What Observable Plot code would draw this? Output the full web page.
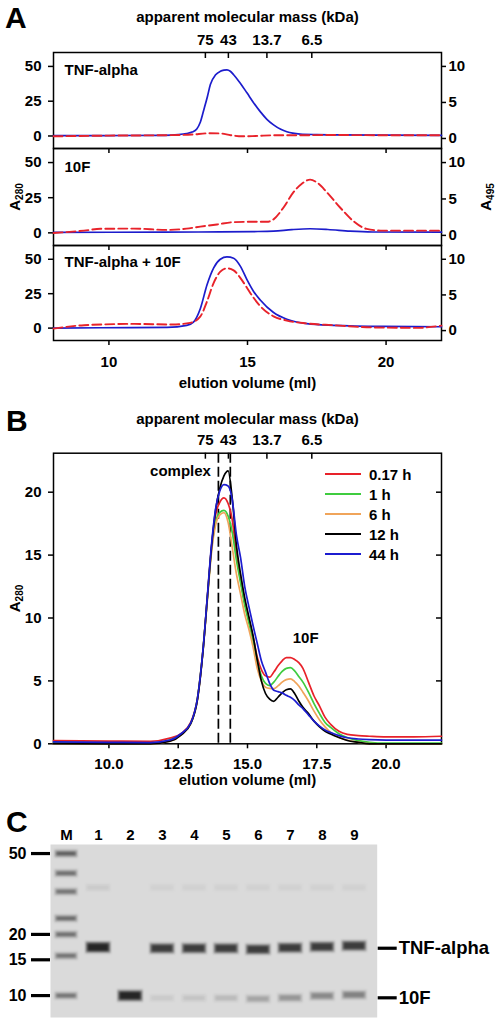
<!DOCTYPE html>
<html><head><meta charset="utf-8">
<script src="https://cdn.jsdelivr.net/npm/d3@7"></script>
<script src="https://cdn.jsdelivr.net/npm/@observablehq/plot@0.6"></script>
<style>
body{margin:0;background:#fff;}
#fig{position:relative;width:498px;height:1022px;font-family:"Liberation Sans",Arial,sans-serif;font-weight:bold;color:#000;overflow:hidden;}
#fig .part{position:absolute;left:0;}
#fig .letter{position:absolute;font-size:30px;line-height:1;font-weight:bold;}
#fig .legend{position:absolute;left:325px;top:464px;font-size:15px;}
#fig .legend .row{display:flex;align-items:center;height:20px;}
#fig .legend svg{display:block;}
</style></head>
<body><div id="fig"></div>
<script>
// ---------- shared axis values ----------
const kdaLabels = ["75", "43", "13.7", "6.5"];
const kdaVol = [13.48, 14.31, 15.70, 17.32];       // elution volume (ml) of the mass standards
const volTicksA = [10, 15, 20];
const volTicksB = [10, 12.5, 15, 17.5, 20];
const a280TicksA = [0, 25, 50];
const a495TicksA = [0, 5, 10];
const a280TicksB = [0, 5, 10, 15, 20];

// ---------- Panel A : TNF-alpha ----------
const a1Vol  = [8, 10, 12, 12.5, 12.8, 13.0, 13.17, 13.3, 13.42, 13.55, 13.66, 13.85, 14.02, 14.15, 14.26, 14.38, 14.5, 14.7, 14.98, 15.2, 15.46, 15.7, 15.94, 16.2, 16.42, 16.9, 17.5, 18.1, 20, 22];
const a1A280 = [0.2, 0.3, 0.5, 1.0, 1.8, 2.8, 5.0, 10, 18.5, 28, 37, 44, 46.5, 47.3, 47.5, 46.5, 44, 39, 31, 24.5, 17.5, 12, 8, 4.8, 3, 1.4, 1.0, 0.8, 0.6, 0.5];
const a1VolR = [8, 10, 12, 13, 13.6, 14.0, 14.4, 14.8, 15.3, 16, 17, 18, 20, 22];
const a1A495 = [0.3, 0.4, 0.45, 0.55, 0.72, 0.7, 0.45, 0.3, 0.35, 0.45, 0.45, 0.48, 0.45, 0.45];
// ---------- Panel A : 10F ----------
const a2Vol  = [8, 12, 14, 15.2, 15.94, 16.6, 17.26, 17.9, 18.7, 19.5, 22];
const a2A280 = [0.4, 0.5, 0.7, 0.9, 1.2, 2.3, 2.9, 2.4, 1.2, 0.6, 0.5];
const a2VolR = [8, 9.1, 9.7, 10.9, 12.1, 12.8, 13.3, 13.9, 14.5, 15.2, 15.7, 15.94, 16.3, 16.66, 16.96, 17.26, 17.56, 17.86, 18.34, 18.82, 19.3, 19.9, 22];
const a2A495 = [0.33, 0.65, 0.9, 0.93, 0.75, 0.93, 1.2, 1.5, 1.82, 1.87, 1.87, 2.2, 3.83, 5.93, 7.1, 7.66, 7.1, 5.93, 3.83, 1.96, 0.89, 0.65, 0.65];
// ---------- Panel A : TNF-alpha + 10F ----------
const a3Vol  = [8, 9.7, 12.1, 12.81, 13.05, 13.3, 13.54, 13.78, 14.02, 14.26, 14.5, 14.74, 14.98, 15.22, 15.46, 15.94, 16.42, 17.14, 18.1, 19.9, 22];
const a3A280 = [0, 0.25, 0.5, 2, 4.4, 14.3, 31.5, 43.8, 50, 51.7, 50.7, 45, 35.2, 26.6, 20.4, 11.3, 6.4, 3.2, 2, 1.2, 1];
const a3VolR = [8, 9.1, 10.9, 12.3, 12.93, 13.3, 13.54, 13.78, 14.02, 14.26, 14.5, 14.74, 14.98, 15.22, 15.46, 15.94, 16.42, 17.14, 18.1, 19.3, 21.1, 22];
const a3A495 = [0.28, 0.75, 0.94, 0.85, 1.08, 2.0, 4.1, 6.7, 8.26, 8.73, 8.45, 7.4, 6.0, 4.6, 3.43, 2.0, 1.4, 1.0, 0.75, 0.47, 0.38, 0.7];

// ---------- Panel B : time course ----------
const bTimes = ["0.17 h", "1 h", "6 h", "12 h", "44 h"];
const bVol = [8, 10, 11.5, 12.2, 12.6, 12.95, 13.2, 13.4, 13.55, 13.7, 13.85, 14.0, 14.15, 14.3, 14.45, 14.6, 14.75, 14.9, 15.05, 15.2, 15.35, 15.5, 15.65, 15.8, 15.95, 16.1, 16.25, 16.4, 16.55, 16.7, 16.85, 17.0, 17.2, 17.4, 17.6, 17.8, 18.0, 18.3, 18.6, 19.0, 19.4, 20.0, 21.0, 22.0];
const b017h = [0.25, 0.22, 0.2, 0.45, 0.8, 1.7, 3.7, 7.6, 11.6, 15.6, 18.2, 19.2, 19.55, 19.1, 17.8, 15.0, 13.0, 11.2, 9.9, 8.5, 6.9, 5.9, 5.4, 5.3, 5.7, 6.2, 6.6, 6.85, 6.85, 6.7, 6.45, 6.0, 4.9, 3.8, 3.0, 2.1, 1.55, 1.0, 0.75, 0.65, 0.6, 0.55, 0.55, 0.6];
const b1h   = [0.1, 0.05, 0.02, 0.3, 0.75, 1.6, 3.7, 7.6, 11.5, 15.4, 17.6, 18.4, 18.55, 18.1, 16.8, 14.6, 12.8, 11.0, 9.6, 8.2, 6.6, 5.4, 4.8, 4.63, 4.9, 5.35, 5.75, 6.0, 6.05, 5.8, 5.35, 4.9, 4.1, 3.2, 2.4, 1.7, 1.3, 0.8, 0.5, 0.25, 0.12, 0.05, 0.05, 0.05];
const b6h   = [0.02, 0, 0, 0.2, 0.7, 1.6, 3.6, 7.5, 11.4, 15.2, 17.4, 18.2, 18.38, 17.6, 15.6, 13.5, 11.9, 10.3, 9.1, 7.7, 6.0, 5.0, 4.5, 4.4, 4.38, 4.6, 4.9, 5.1, 5.16, 4.95, 4.6, 4.1, 3.4, 2.6, 1.9, 1.35, 0.9, 0.5, 0.3, 0.12, 0.02, 0, 0, 0];
const b12h  = [0.02, 0, 0, 0.2, 0.7, 1.6, 3.6, 7.5, 11.6, 15.6, 18.6, 20.3, 21.3, 21.7, 19.5, 15.8, 13.5, 11.6, 10.1, 8.6, 6.7, 5.0, 4.0, 3.55, 3.38, 3.7, 4.05, 4.3, 4.36, 4.0, 3.4, 2.9, 2.4, 1.8, 1.35, 1.0, 0.78, 0.5, 0.26, 0.12, 0, 0, 0, 0];
const b44h  = [0.15, 0.12, 0.1, 0.3, 0.8, 1.65, 3.7, 7.6, 11.7, 15.8, 18.7, 20.1, 20.6, 20.5, 19.4, 16.6, 14.8, 12.5, 10.9, 9.4, 8.0, 6.6, 5.7, 4.8, 4.25, 4.15, 4.05, 3.85, 3.7, 3.45, 3.1, 2.8, 2.3, 1.8, 1.4, 1.1, 0.9, 0.65, 0.48, 0.38, 0.33, 0.3, 0.3, 0.3];
const complexVol = [13.95, 14.38];

// ---------- Panel C : SDS gel ----------
const lanes = ["M", "1", "2", "3", "4", "5", "6", "7", "8", "9"];
const mwTicks = [50, 20, 15, 10];
const markerMW = [50, 40, 32.5, 24, 20, 15.7, 10];
const markerInt = [0.6, 0.5, 0.47, 0.52, 0.5, 0.47, 0.47];
const tnfLanes = ["1", "3", "4", "5", "6", "7", "8", "9"];
const tnfMW = [17.3, 17.1, 17.1, 17.1, 16.9, 17.2, 17.4, 17.6];
const tnfInt = [1.0, 0.82, 0.82, 0.82, 0.82, 0.82, 0.82, 0.82];
const f10Lanes = ["2", "3", "4", "5", "6", "7", "8", "9"];
const f10MW = [10.0, 9.73, 9.73, 9.73, 9.64, 9.75, 9.97, 10.09];
const f10Int = [1.0, 0.06, 0.09, 0.13, 0.22, 0.29, 0.35, 0.39];
const faintLanes = ["1", "3", "4", "5", "6", "7", "8", "9"];
const faintMW = [34, 34, 34, 34, 34, 34, 34, 34];
const faintInt = [0.06, 0.035, 0.035, 0.035, 0.035, 0.035, 0.035, 0.035];
const bandLabels = ["TNF-alpha", "10F"];
const bandLabelMW = [17.1, 9.75];

// ---------- styling ----------
const RED = "#e8222a", BLUE = "#1c1ccc";
const bColors = ["#e8222a", "#3fcc3f", "#f0a45a", "#000000", "#1c1cd0"];
const FONT = '"Liberation Sans", Arial, sans-serif';
const style = {fontFamily: FONT, fontSize: "15px", fontWeight: "bold", color: "#000", background: "transparent", overflow: "visible"};
// A495 (right axis) drawn in A280 units of the left axis
const A_OFF = -1.8, A_SCALE = 5.18;
const toLeft = r => A_OFF + A_SCALE * r;
const SVGNS = "http://www.w3.org/2000/svg";

const fig = document.getElementById("fig");
function place(node, top) {
  const d = document.createElement("div");
  d.className = "part"; d.style.top = top + "px";
  d.appendChild(node); fig.appendChild(d); return node;
}
function subscriptify(svg) {
  svg.querySelectorAll("text").forEach(t => {
    const m = /^A(\d{3})$/.exec(t.textContent);
    if (!m || t.children.length) return;
    t.textContent = "A";
    const ts = document.createElementNS(SVGNS, "tspan");
    ts.setAttribute("dy", "0.3em");
    ts.setAttribute("font-size", "10");
    ts.textContent = m[1];
    t.appendChild(ts);
  });
}
function letter(ch, left, top) {
  const d = document.createElement("div");
  d.className = "letter"; d.textContent = ch;
  d.style.left = left + "px"; d.style.top = top + "px";
  fig.appendChild(d);
}
const zip = (xs, ys) => xs.map((x, i) => ({x, y: ys[i]}));

// ---------- Panel A ----------
const aSpecs = [
  {name: "TNF-alpha", top: 0, height: 148, mt: 52, mb: 0, nameDy: 18, bv: a1Vol, b: a1A280, rv: a1VolR, r: a1A495},
  {name: "10F", top: 148, height: 97, mt: 0, mb: 0, nameDy: 18.5, bv: a2Vol, b: a2A280, rv: a2VolR, r: a2A495},
  {name: "TNF-alpha + 10F", top: 245, height: 147, mt: 0, mb: 52, nameDy: 17, bv: a3Vol, b: a3A280, rv: a3VolR, r: a3A495}
];
aSpecs.forEach((s, k) => {
  const frameH = s.height - s.mt - s.mb;
  const marks = [
    Plot.frame({strokeWidth: 1.5}),
    Plot.axisY({anchor: "left", ticks: a280TicksA, tickSize: 5, tickPadding: 7, strokeWidth: 1.5, label: null}),
    Plot.axisY({anchor: "right", ticks: a495TicksA.map(toLeft), tickFormat: d => String(Math.round((d - A_OFF) / A_SCALE)), tickSize: 4, tickPadding: 3, strokeWidth: 1.5, label: null}),
    Plot.line(zip(s.bv, s.b), {x: "x", y: "y", stroke: BLUE, strokeWidth: 1.7, curve: "monotone-x"}),
    Plot.line(zip(s.rv, s.r), {x: "x", y: d => toLeft(d.y), stroke: RED, strokeWidth: 1.9, strokeDasharray: "9,4", curve: "monotone-x"}),
    Plot.text([s.name], {text: d => d, frameAnchor: "top-left", dx: 11, dy: s.nameDy, lineAnchor: "middle", textAnchor: "start"})
  ];
  if (k === 0) {
    marks.push(Plot.tickX(kdaVol, {x: d => d, insetBottom: frameH - 6, strokeWidth: 1.5}));
    marks.push(Plot.axisX({anchor: "top", ticks: kdaVol, tickFormat: d => kdaLabels[kdaVol.indexOf(d)], tickSize: 0, tickPadding: 8, label: "apparent molecular mass (kDa)", labelAnchor: "center", labelArrow: "none", labelOffset: 41}));
  } else {
    marks.push(Plot.tickX(volTicksA, {x: d => d, insetBottom: frameH - 5, strokeWidth: 1.5}));
  }
  if (k === 1) {
    marks.push(Plot.text(["A280"], {text: d => d, frameAnchor: "left", rotate: -90, dx: -38.5, lineAnchor: "middle", textAnchor: "middle"}));
    marks.push(Plot.text(["A495"], {text: d => d, frameAnchor: "right", rotate: -90, dx: 45, lineAnchor: "middle", textAnchor: "middle"}));
  }
  if (k === 2) {
    marks.push(Plot.axisX({anchor: "bottom", ticks: volTicksA, tickSize: 5, tickPadding: 11, strokeWidth: 1.5, label: "elution volume (ml)", labelAnchor: "center", labelArrow: "none", labelOffset: 47.5}));
  }
  const svg = Plot.plot({
    width: 498, height: s.height, marginTop: s.mt, marginBottom: s.mb, marginLeft: 53, marginRight: 57,
    x: {domain: [8, 22], axis: null}, y: {domain: [-9, 60], axis: null},
    style, marks
  });
  subscriptify(svg);
  place(svg, s.top);
});

// ---------- Panel B ----------
{
  const series = [b017h, b1h, b6h, b12h, b44h];
  const bData = series.flatMap((vals, j) => vals.map((v, i) => ({vol: bVol[i], a: v, t: bTimes[j]})));
  const frameW = 498 - 53 - 57, frameH = 420 - 72.7 - 56.7;
  const svg = Plot.plot({
    width: 498, height: 420, marginTop: 72.7, marginBottom: 56.7, marginLeft: 53, marginRight: 57,
    x: {domain: [8, 22], axis: null}, y: {domain: [0, 23.1], axis: null},
    color: {domain: bTimes, range: bColors},
    style,
    marks: [
      Plot.frame({strokeWidth: 1.5}),
      Plot.axisY({anchor: "left", ticks: a280TicksB, tickSize: 5, tickPadding: 7, strokeWidth: 1.5, label: null}),
      Plot.tickY(a280TicksB.filter(d => d > 0), {y: d => d, insetLeft: frameW - 5, strokeWidth: 1.5}),
      Plot.tickX(kdaVol, {x: d => d, insetBottom: frameH - 6, strokeWidth: 1.5}),
      Plot.axisX({anchor: "top", ticks: kdaVol, tickFormat: d => kdaLabels[kdaVol.indexOf(d)], tickSize: 0, tickPadding: 8, label: "apparent molecular mass (kDa)", labelAnchor: "center", labelArrow: "none", labelOffset: 39.5}),
      Plot.axisX({anchor: "bottom", ticks: volTicksB, tickFormat: d3.format(".1f"), tickSize: 5, tickPadding: 10, strokeWidth: 1.5, label: "elution volume (ml)", labelAnchor: "center", labelArrow: "none", labelOffset: 41.5}),
      Plot.ruleX(complexVol, {x: d => d, stroke: "#000", strokeWidth: 1.7, strokeDasharray: "10,4"}),
      Plot.line(bData, {x: "vol", y: "a", z: "t", stroke: "t", strokeWidth: 1.7, curve: "monotone-x"}),
      Plot.text(["complex"], {text: d => d, x: 13.68, y: 21.7, textAnchor: "end", lineAnchor: "middle"}),
      Plot.text(["10F"], {text: d => d, x: 17.1, y: 8.4, textAnchor: "middle", lineAnchor: "middle"}),
      Plot.text(["A280"], {text: d => d, frameAnchor: "left", rotate: -90, dx: -38.5, lineAnchor: "middle", textAnchor: "middle"})
    ]
  });
  subscriptify(svg);
  place(svg, 380);

  // legend
  const leg = document.createElement("div");
  leg.className = "legend";
  bTimes.forEach((t, j) => {
    const row = document.createElement("div");
    row.className = "row";
    row.innerHTML = `<svg width="36" height="20"><line x1="0" x2="36" y1="10" y2="10" stroke="${bColors[j]}" stroke-width="2"/></svg><span style="margin-left:8px">${t}</span>`;
    leg.appendChild(row);
  });
  fig.appendChild(leg);
}

// ---------- Panel C ----------
{
  const band = (ls, mws, ints) => ls.map((l, i) => ({lane: l, mw: mws[i], a: ints[i]}));
  const markers = markerMW.map((mw, i) => ({lane: "M", mw, a: markerInt[i]}));
  const bands = [
    ...band(tnfLanes, tnfMW, tnfInt),
    ...band(f10Lanes, f10MW, f10Int),
    ...band(faintLanes, faintMW, faintInt)
  ];
  // each band is drawn as a soft stack: wide faint halo + narrower dense core
  const halo = [
    {grow: 5, inset: 1, k: 0.18},
    {grow: 2.5, inset: 2, k: 0.3},
    {grow: 0, inset: 3.5, k: 0.7}
  ];
  const bandMarks = halo.flatMap(h => [
    Plot.tickY(markers, {x: "lane", y: "mw", stroke: "#000", strokeOpacity: d => d.a * h.k, strokeWidth: 3.5 + h.grow, insetLeft: h.inset + 1, insetRight: h.inset + 1}),
    Plot.tickY(bands, {x: "lane", y: "mw", stroke: "#000", strokeOpacity: d => Math.min(1, d.a * h.k), strokeWidth: d => 4 + 3.5 * d.a + h.grow, insetLeft: h.inset, insetRight: h.inset})
  ]);
  const svg = Plot.plot({
    width: 498, height: 222, marginTop: 44, marginBottom: 5, marginLeft: 50, marginRight: 121.3,
    x: {type: "band", domain: lanes, padding: 0.12, insetLeft: -3, insetRight: 4, axis: null},
    y: {type: "log", domain: [7.8, 55.4], axis: null},
    style,
    marks: [
      Plot.frame({fill: "#dadada", stroke: "none"}),
      ...bandMarks,
      Plot.axisX({anchor: "top", tickSize: 0, tickPadding: 4.5, label: null}),
      Plot.axisY({anchor: "left", ticks: mwTicks, tickFormat: d => String(d), tickSize: 19, tickPadding: 5, strokeWidth: 3.2, fontSize: 16, label: null}),
      Plot.axisY({anchor: "right", ticks: bandLabelMW, tickFormat: d => bandLabels[bandLabelMW.indexOf(d)], tickSize: 19, tickPadding: 2.5, strokeWidth: 3.2, fontSize: 18.5, label: null})
    ]
  });
  // extra softening with an SVG Gaussian blur
  const defs = document.createElementNS(SVGNS, "defs");
  const filt = document.createElementNS(SVGNS, "filter");
  filt.setAttribute("id", "gelblur");
  filt.setAttribute("x", "-20%"); filt.setAttribute("y", "-20%");
  filt.setAttribute("width", "140%"); filt.setAttribute("height", "140%");
  const blur = document.createElementNS(SVGNS, "feGaussianBlur");
  blur.setAttribute("stdDeviation", "1.2");
  filt.appendChild(blur); defs.appendChild(filt);
  svg.insertBefore(defs, svg.firstChild);
  svg.querySelectorAll('g[aria-label="tick"]').forEach(g => g.setAttribute("filter", "url(#gelblur)"));
  place(svg, 800);
}

letter("A", 5, 3);
letter("B", 6, 406);
letter("C", 6, 807);
</script></body></html>
